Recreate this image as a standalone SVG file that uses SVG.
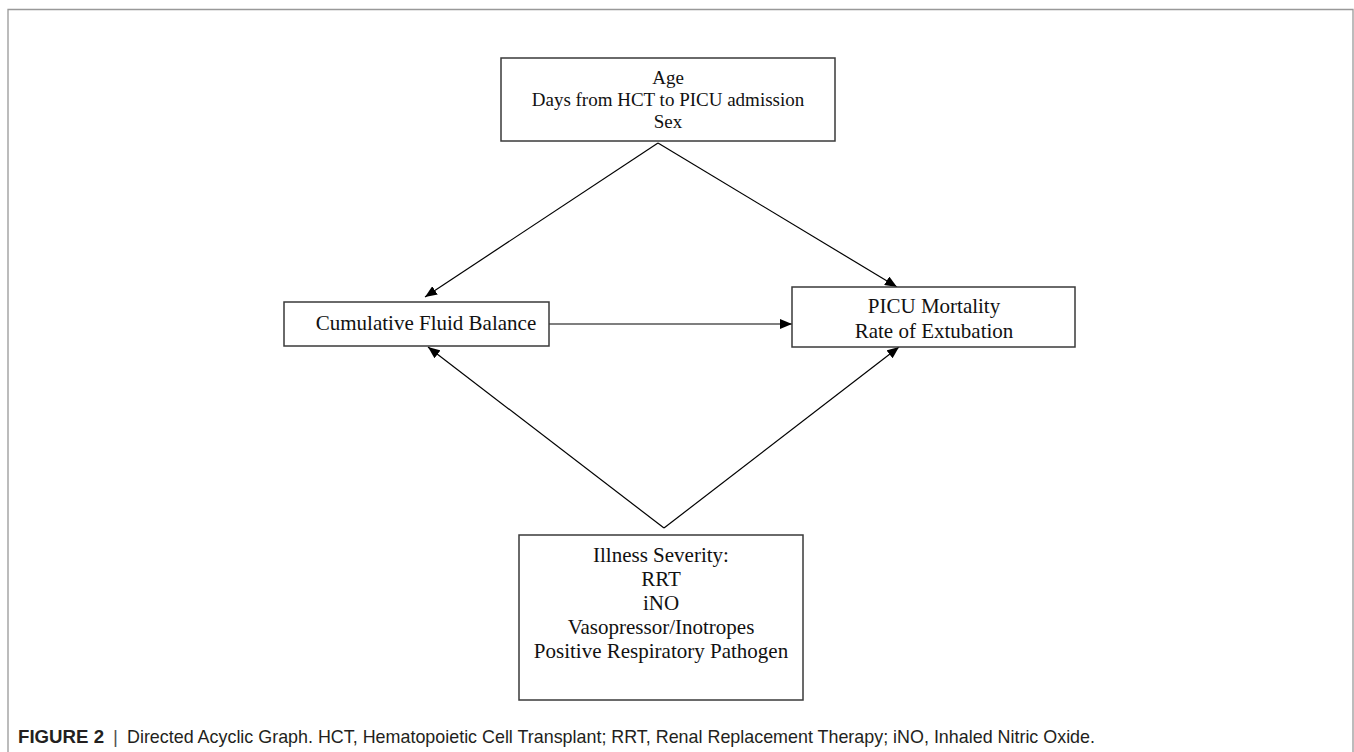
<svg xmlns="http://www.w3.org/2000/svg" width="1354" height="752" viewBox="0 0 1354 752">
<defs>
<marker id="ah" viewBox="0 0 12 10" refX="12" refY="5" markerWidth="12" markerHeight="10" markerUnits="userSpaceOnUse" orient="auto">
<path d="M0,0 L12,5 L0,10 z" fill="#000"/>
</marker>
</defs>
<style>
.box{fill:#fff;stroke:#3a3a3a;stroke-width:1.5}
.t{font-family:"Liberation Serif","Times New Roman",serif;fill:#111;text-anchor:middle}
.edge{stroke:#000;stroke-width:1.2;fill:none;marker-end:url(#ah)}
.cap{font-family:"Liberation Sans",Arial,sans-serif;fill:#231f20}
</style>
<rect width="1354" height="752" fill="#fff"/>
<path d="M8,760 V9.5 H1353 V760" fill="none" stroke="#999" stroke-width="1.3"/>
<g id="connectors">
<path class="edge" d="M658,143 L425,297"/>
<path class="edge" d="M658,143 L897,287"/>
<path class="edge" d="M549,324 L792,324"/>
<path class="edge" d="M664,528 L428,347"/>
<path class="edge" d="M664,528 L899,347"/>
</g>
<g id="confounders">
<rect class="box" x="501" y="58" width="334" height="83"/>
<text class="t" font-size="19"><tspan x="668" y="84">Age</tspan><tspan x="668" y="106">Days from HCT to PICU admission</tspan><tspan x="668" y="128">Sex</tspan></text>
</g>
<g id="exposure">
<rect class="box" x="284" y="302" width="265" height="44"/>
<text class="t" font-size="21" x="426" y="330">Cumulative Fluid Balance</text>
</g>
<g id="outcome">
<rect class="box" x="792" y="287" width="283" height="60"/>
<text class="t" font-size="21"><tspan x="934" y="313">PICU Mortality</tspan><tspan x="934" y="338">Rate of Extubation</tspan></text>
</g>
<g id="severity">
<rect class="box" x="519" y="535" width="284" height="165"/>
<text class="t" font-size="21"><tspan x="661" y="562">Illness Severity:</tspan><tspan x="661" y="586">RRT</tspan><tspan x="661" y="610">iNO</tspan><tspan x="661" y="634">Vasopressor/Inotropes</tspan><tspan x="661" y="658">Positive Respiratory Pathogen</tspan></text>
</g>
<g id="caption">
<text class="cap" font-size="19" y="743"><tspan x="18" font-weight="bold" textLength="86" lengthAdjust="spacingAndGlyphs">FIGURE 2</tspan><tspan x="113" fill="#555">|</tspan><tspan x="127" textLength="968" lengthAdjust="spacingAndGlyphs">Directed Acyclic Graph. HCT, Hematopoietic Cell Transplant; RRT, Renal Replacement Therapy; iNO, Inhaled Nitric Oxide.</tspan></text>
</g>
</svg>
